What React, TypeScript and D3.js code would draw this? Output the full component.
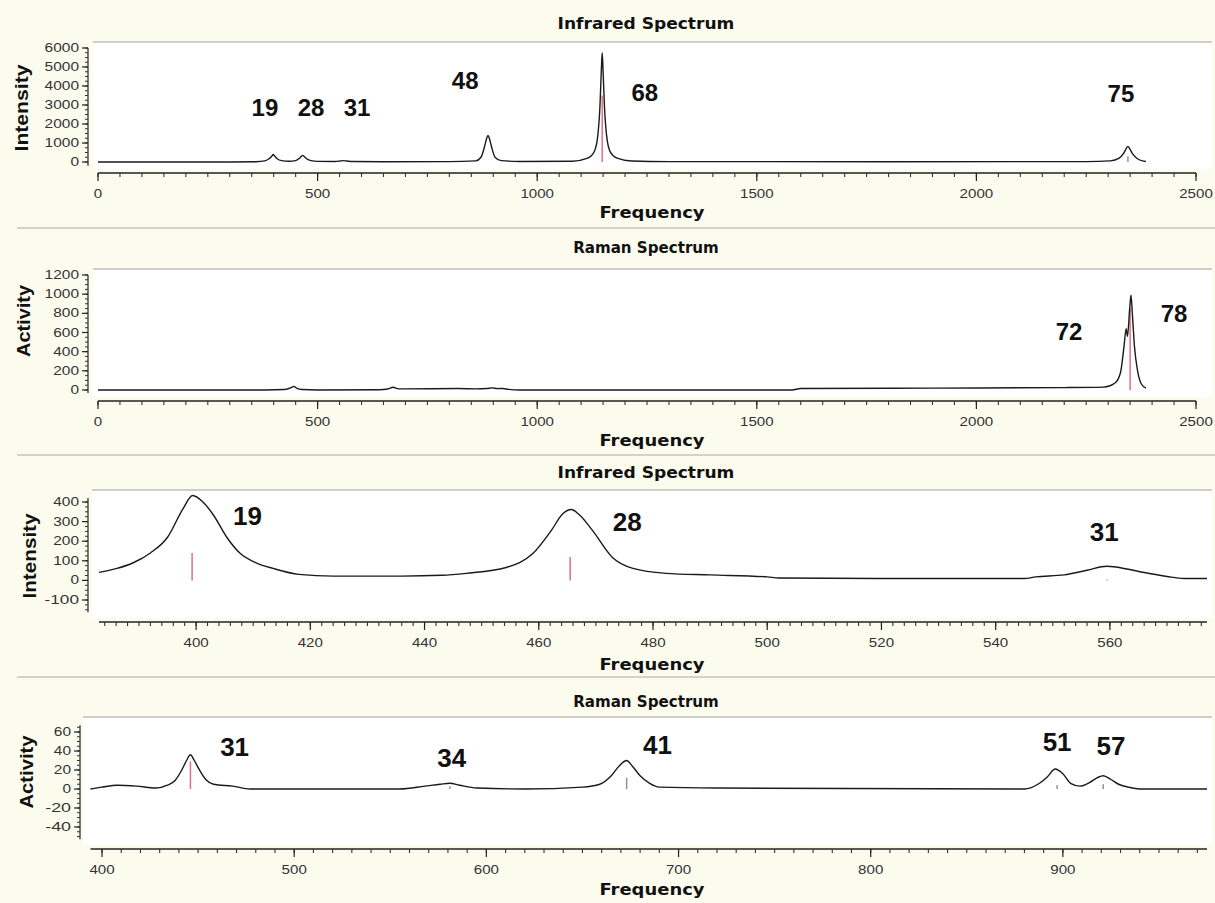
import React from 'react';
import * as d3 from 'd3';

type Pt = [number, number];
type PeakLabel = { text: string; freq: number; value: number };

// --- data: [frequency, value] ---
const irFull: Pt[] = [
  [0, 0], [300, 2], [360, 15], [380, 60], [390, 180], [396, 320], [399, 400], [402, 320], [408, 170],
  [418, 70], [435, 40], [450, 70], [458, 180], [463, 300], [466, 350], [469, 300], [475, 170], [485, 70],
  [500, 35], [540, 30], [552, 55], [559, 70], [566, 55], [580, 25], [650, 15], [800, 20], [860, 60],
  [872, 250], [880, 800], [885, 1250], [888, 1400], [891, 1250], [896, 800], [904, 250], [918, 70],
  [960, 30], [1080, 40], [1115, 200], [1130, 550], [1138, 1400], [1143, 3000], [1146, 4800], [1148, 5750],
  [1150, 4800], [1153, 3000], [1158, 1400], [1166, 550], [1182, 200], [1215, 50], [1300, 20], [1800, 15],
  [2250, 20], [2305, 60], [2325, 200], [2335, 450], [2341, 700], [2345, 820], [2349, 700], [2355, 450],
  [2365, 200], [2378, 60], [2386, 30],
];

const ramanFull: Pt[] = [
  [0, 0], [380, 0], [425, 5], [440, 25], [446, 38], [452, 20], [465, 5], [500, 0], [640, 2], [660, 10],
  [672, 28], [684, 12], [700, 12], [820, 15], [860, 12], [885, 15], [897, 22], [909, 14], [921, 16],
  [935, 6], [960, 0], [1580, 0], [1600, 15], [1900, 20], [2200, 25], [2290, 30], [2315, 70], [2328, 180],
  [2336, 450], [2341, 640], [2344, 560], [2349, 850], [2352, 990], [2355, 800], [2360, 450], [2367, 200],
  [2376, 60], [2386, 20],
];

const irZoom: Pt[] = [
  [383, 41], [386, 60], [389, 90], [392, 140], [395, 220], [397.7, 365], [399.4, 433], [401.2, 400],
  [403, 335], [405.4, 219], [407.7, 138], [410.7, 87], [413.5, 61], [418, 31], [424, 22], [436, 22],
  [443, 26], [447.3, 36], [454.3, 66], [459, 138], [462.2, 255], [464.2, 340], [465.7, 362], [467.1, 335],
  [469.4, 255], [472.9, 117], [476.5, 61], [482.3, 36], [490, 28], [500, 18], [502, 12], [520, 10],
  [545, 10], [547, 18], [552, 28], [556, 52], [559.5, 72], [563, 58], [566, 40], [570, 20], [573, 10],
  [577, 10],
];

const ramanZoom: Pt[] = [
  [394, 0], [400, 2], [408, 4], [418, 3], [428, 1], [434, 4], [438, 9], [441.5, 20], [444, 30], [446, 36],
  [448, 30], [451, 19], [454, 10], [458, 5], [468, 3], [477, 0], [555, 0], [568, 3], [576, 5], [581, 6],
  [586, 4], [595, 1], [620, 0], [650, 2], [659, 5], [665, 14], [669, 24], [673, 30], [676, 24], [680, 14],
  [685, 6], [690, 2], [720, 1], [880, 0], [887, 5], [892, 13], [896, 21], [900, 16], [904, 6], [909, 3],
  [914, 7], [918, 12], [921, 14], [925, 10], [929, 5], [934, 2], [940, 0], [975, 0],
];

// computed mode sticks [freq, height, highlighted]
const irFullSticks: [number, number, boolean][] = [[1148, 3500, true], [2345, 300, false]];
const ramanFullSticks: [number, number, boolean][] = [[2350, 850, true]];
const irZoomSticks: [number, number, boolean][] = [[399.3, 140, true], [465.5, 120, true], [559.5, 5, false]];
const ramanZoomSticks: [number, number, boolean][] = [
  [446, 29, true], [581, 3, false], [673, 12, false], [897, 4, false], [921, 5, false],
];

// mode numbers, anchored in data coordinates
const irFullLabels: PeakLabel[] = [
  { text: '19', freq: 380, value: 2890 }, { text: '28', freq: 485, value: 2890 },
  { text: '31', freq: 590, value: 2890 }, { text: '48', freq: 836, value: 4310 },
  { text: '68', freq: 1245, value: 3680 }, { text: '75', freq: 2329, value: 3630 },
];
const ramanFullLabels: PeakLabel[] = [
  { text: '72', freq: 2211, value: 615 }, { text: '78', freq: 2450, value: 803 },
];
const irZoomLabels: PeakLabel[] = [
  { text: '19', freq: 409, value: 327 }, { text: '28', freq: 475.5, value: 296 },
  { text: '31', freq: 559, value: 245 },
];
const ramanZoomLabels: PeakLabel[] = [
  { text: '31', freq: 469, value: 44 }, { text: '34', freq: 582, value: 33 },
  { text: '41', freq: 689, value: 46 }, { text: '51', freq: 897, value: 49 },
  { text: '57', freq: 925, value: 45 },
];

// tick labels
const fullXTicks = [0, 500, 1000, 1500, 2000, 2500];
const irZoomXTicks = [400, 420, 440, 460, 480, 500, 520, 540, 560];
const ramanZoomXTicks = [400, 500, 600, 700, 800, 900];
const irFullYTicks = [0, 1000, 2000, 3000, 4000, 5000, 6000];
const ramanFullYTicks = [0, 200, 400, 600, 800, 1000, 1200];
const irZoomYTicks = [-100, 0, 100, 200, 300, 400];
const ramanZoomYTicks = [-40, -20, 0, 20, 40, 60];

const BG = '#fcfcee';
const TICK_FONT = "'Liberation Sans', Arial, sans-serif";
const TITLE_FONT = "'DejaVu Sans', Verdana, sans-serif";

type PanelProps = {
  title: string; titleY: number; sepY?: number; top: number; left: number;
  yTitle: string; yTitleX: number; yTitleY: number; yTitleLen: number;
  data: Pt[]; sticks: [number, number, boolean][]; labels: PeakLabel[]; labelSize: number;
  xDomain: [number, number]; xRange: [number, number]; xTicks: number[]; xMinor: number;
  xAxisY: number; xLabelY: number; freqY: number;
  yTicks: number[]; yRange: [number, number]; yMinor: number; yAxisX: number; yExt: [number, number];
};

const Panel = (p: PanelProps) => {
  const x = d3.scaleLinear().domain(p.xDomain).range(p.xRange);
  const yTickMin = p.yTicks[0];
  const yTickMax = p.yTicks[p.yTicks.length - 1];
  const y = d3.scaleLinear().domain([yTickMin, yTickMax]).range(p.yRange);
  const line = d3.line<Pt>().x(d => x(d[0])).y(d => y(d[1])).curve(d3.curveMonotoneX);

  const xMinorTicks = d3.range(Math.ceil(p.xDomain[0] / p.xMinor) * p.xMinor, p.xDomain[1] + 1e-6, p.xMinor);
  const yMinorTicks = d3.range(Math.ceil(p.yExt[0] / p.yMinor) * p.yMinor, p.yExt[1] + 1e-6, p.yMinor);

  return (
    <g>
      {p.sepY !== undefined && <line x1={17} x2={1215} y1={p.sepY} y2={p.sepY} stroke="#a8a8a0" strokeWidth={1.2} />}
      <rect x={p.left} y={p.top} width={1212 - p.left} height={p.xAxisY - 4 - p.top} fill="#ffffff" />
      <line x1={p.left} x2={1212} y1={p.top} y2={p.top} stroke="#a0a0a0" strokeWidth={1.2} />
      <text x={646} y={p.titleY} textAnchor="middle" dominantBaseline="central" fontFamily={TITLE_FONT}
        fontWeight="bold" fontSize={15} textLength={p.title.length * 10.4} lengthAdjust="spacingAndGlyphs" fill="#111">
        {p.title}
      </text>

      {/* y axis */}
      <line x1={p.yAxisX} x2={p.yAxisX} y1={y(p.yExt[0])} y2={y(p.yExt[1])} stroke="#222" strokeWidth={1.2} />
      {yMinorTicks.map(v => (
        <line key={'ym' + v} x1={p.yAxisX - 3} x2={p.yAxisX} y1={y(v)} y2={y(v)} stroke="#333" strokeWidth={1} />
      ))}
      {p.yTicks.map(v => (
        <g key={'y' + v}>
          <line x1={p.yAxisX - 6} x2={p.yAxisX} y1={y(v)} y2={y(v)} stroke="#222" strokeWidth={1.2} />
          <text x={p.yAxisX - 9} y={y(v)} textAnchor="end" dominantBaseline="central" fontFamily={TICK_FONT}
            fontSize={12} textLength={String(v).length * 8.6} lengthAdjust="spacingAndGlyphs" fill="#333">
            {v}
          </text>
        </g>
      ))}
      <text transform={`translate(${p.yTitleX},${p.yTitleY}) rotate(-90)`} textAnchor="middle" dominantBaseline="central"
        fontFamily={TICK_FONT} fontWeight="bold" fontSize={19} textLength={p.yTitleLen} lengthAdjust="spacingAndGlyphs" fill="#111">
        {p.yTitle}
      </text>

      {/* x axis */}
      <line x1={p.xRange[0]} x2={p.xRange[1]} y1={p.xAxisY} y2={p.xAxisY} stroke="#222" strokeWidth={1.4} />
      {xMinorTicks.map(v => (
        <line key={'xm' + v} x1={x(v)} x2={x(v)} y1={p.xAxisY} y2={p.xAxisY + 4} stroke="#333" strokeWidth={1.1} />
      ))}
      {p.xTicks.map(v => (
        <g key={'x' + v}>
          <line x1={x(v)} x2={x(v)} y1={p.xAxisY} y2={p.xAxisY + 8} stroke="#222" strokeWidth={1.2} />
          <text x={x(v)} y={p.xLabelY} textAnchor="middle" dominantBaseline="central" fontFamily={TICK_FONT}
            fontSize={12} textLength={String(v).length * 8.4} lengthAdjust="spacingAndGlyphs" fill="#333">
            {v}
          </text>
        </g>
      ))}
      <text x={652} y={p.freqY} textAnchor="middle" dominantBaseline="central" fontFamily={TITLE_FONT}
        fontWeight="bold" fontSize={15} textLength={105} lengthAdjust="spacingAndGlyphs" fill="#111">
        Frequency
      </text>

      {/* sticks and spectrum */}
      {p.sticks.map(([f, h, hi]) => (
        <line key={'s' + f} x1={x(f)} x2={x(f)} y1={y(0)} y2={y(h)} stroke={hi ? '#d9728a' : '#9a9090'} strokeWidth={1.5} />
      ))}
      <path d={line(p.data) ?? ''} fill="none" stroke="#1a1a1a" strokeWidth={1.4} strokeLinejoin="round" />
      {p.labels.map(l => (
        <text key={l.text + l.freq} x={x(l.freq)} y={y(l.value)} textAnchor="middle" dominantBaseline="central"
          fontFamily={TICK_FONT} fontWeight="bold" fontSize={p.labelSize} fill="#111">
          {l.text}
        </text>
      ))}
    </g>
  );
};

export default function App() {
  return (
    <svg width={1215} height={903} style={{ position: 'absolute', left: 0, top: 0 }}>
      <rect width={1215} height={903} fill={BG} />
      <Panel title="Infrared Spectrum" titleY={24} top={42} left={93}
        yTitle="Intensity" yTitleX={21} yTitleY={108} yTitleLen={87}
        data={irFull} sticks={irFullSticks} labels={irFullLabels} labelSize={24}
        xDomain={[0, 2500]} xRange={[98, 1196]} xTicks={fullXTicks} xMinor={50}
        xAxisY={173} xLabelY={194} freqY={213}
        yTicks={irFullYTicks} yRange={[162, 48]} yMinor={250} yAxisX={88} yExt={[-200, 6000]} />
      <Panel title="Raman Spectrum" titleY={248} sepY={228} top={269} left={93}
        yTitle="Activity" yTitleX={23} yTitleY={321} yTitleLen={72}
        data={ramanFull} sticks={ramanFullSticks} labels={ramanFullLabels} labelSize={24}
        xDomain={[0, 2500]} xRange={[98, 1196]} xTicks={fullXTicks} xMinor={50}
        xAxisY={401} xLabelY={422} freqY={441}
        yTicks={ramanFullYTicks} yRange={[390, 275]} yMinor={50} yAxisX={88} yExt={[-30, 1200]} />
      <Panel title="Infrared Spectrum" titleY={473} sepY={455} top={490} left={92}
        yTitle="Intensity" yTitleX={29} yTitleY={556} yTitleLen={85}
        data={irZoom} sticks={irZoomSticks} labels={irZoomLabels} labelSize={26}
        xDomain={[383, 577]} xRange={[99, 1207]} xTicks={irZoomXTicks} xMinor={2}
        xAxisY={622} xLabelY={643} freqY={665}
        yTicks={irZoomYTicks} yRange={[600, 502]} yMinor={25} yAxisX={88} yExt={[-163, 420]} />
      <Panel title="Raman Spectrum" titleY={702} sepY={677} top={717} left={83}
        yTitle="Activity" yTitleX={26} yTitleY={772} yTitleLen={73}
        data={ramanZoom} sticks={ramanZoomSticks} labels={ramanZoomLabels} labelSize={26}
        xDomain={[394, 975]} xRange={[90.5, 1207]} xTicks={ramanZoomXTicks} xMinor={10}
        xAxisY={849} xLabelY={870} freqY={890}
        yTicks={ramanZoomYTicks} yRange={[827, 732]} yMinor={5} yAxisX={80} yExt={[-53, 67]} />
    </svg>
  );
}
